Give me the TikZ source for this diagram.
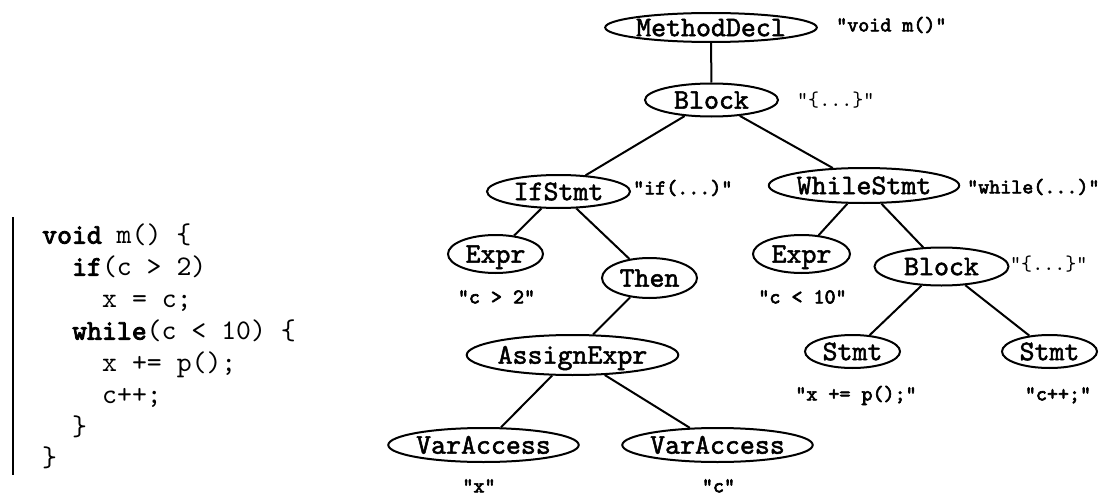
\documentclass[tikz,border=0pt]{standalone}
\usepackage{fontspec}
\usetikzlibrary{shapes.geometric}
% typewriter faces: an emboldened one for tree labels,
% a plain one for source text and a heavy one for keywords and fragments
\newfontfamily\treefont[FakeBold=1.8]{lmmono10-regular.otf}
\newfontfamily\codefont{lmmono10-regular.otf}
\newfontfamily\codeboldfont[FakeBold=3]{lmmono10-regular.otf}
\newcommand\kw[1]{{\codeboldfont #1}}
\begin{document}
\begin{tikzpicture}[x=1pt,y=-1pt,
  astnode/.style={ellipse, draw, line width=2pt, inner sep=0pt,
    text height=17.4pt, text depth=0pt,
    font=\treefont\fontsize{28.5}{28.5}\selectfont},
  srctext/.style={inner sep=0pt, text height=12.8pt, text depth=0pt,
    font=\codeboldfont\fontsize{21}{21}\selectfont},
  srclight/.style={inner sep=0pt, text height=12.8pt, text depth=0pt,
    font=\codefont\fontsize{21}{21}\selectfont},
  codeline/.style={inner sep=0pt, anchor=west, text height=17.3pt, text depth=0pt,
    font=\codefont\fontsize{28.4}{28.4}\selectfont},
  treeedge/.style={line width=2pt}]
\useasboundingbox (0,0) rectangle (1106,495);

% source listing
\draw[line width=2.6pt] (13,217) -- (13,475);
\node[codeline] (l1) at (42,235) {\kw{void} m() \{};
\node[codeline] (l2) at (72,267) {\kw{if}(c > 2)};
\node[codeline] (l3) at (102,299) {x = c;};
\node[codeline] (l4) at (72,331) {\kw{while}(c < 10) \{};
\node[codeline] (l5) at (102,363) {x += p();};
\node[codeline] (l6) at (102,395) {c++;};
\node[codeline] (l7) at (72,427) {\}};
\node[codeline] (l8) at (42,458) {\}};

% syntax tree nodes
\node[astnode, minimum width=208pt, minimum height=29pt] (md) at (711,27.5) {MethodDecl};
\node[astnode, minimum width=133pt, minimum height=33pt] (blk) at (711.5,100) {Block};
\node[astnode, minimum width=143pt, minimum height=33pt] (ifs) at (558.5,191.5) {IfStmt};
\node[astnode, minimum width=182pt, minimum height=35pt] (whs) at (864,185.5) {WhileStmt};
\node[astnode, minimum width=95pt, minimum height=38pt] (exl) at (495.5,254) {Expr};
\node[astnode, minimum width=95pt, minimum height=40pt] (then) at (649.5,278) {Then};
\node[astnode, minimum width=97pt, minimum height=38pt] (exr) at (801.5,254) {Expr};
\node[astnode, minimum width=134pt, minimum height=38pt] (blkr) at (941.5,266.5) {Block};
\node[astnode, minimum width=209pt, minimum height=40pt] (asg) at (572.5,355) {AssignExpr};
\node[astnode, minimum width=183pt, minimum height=34pt] (val) at (483.5,445) {VarAccess};
\node[astnode, minimum width=185pt, minimum height=34pt] (var) at (717.5,445) {VarAccess};
\node[astnode, minimum width=95pt, minimum height=33pt] (stl) at (852.5,351.5) {Stmt};
\node[astnode, minimum width=95pt, minimum height=33pt] (str) at (1049.5,351.5) {Stmt};

% source fragments attached to the nodes
\node[srctext, anchor=west] (tmd) at (836,25) {"void m()"};
\node[srclight, anchor=west] (tblk) at (797,100) {"\{...\}"};
\node[srctext, anchor=west] (tifs) at (633,188) {"if(...)"};
\node[srctext, anchor=west] (twhs) at (967,187) {"while(...)"};
\node[srctext] (texl) at (496.5,297) {"c > 2"};
\node[srctext] (texr) at (802.5,297) {"c < 10"};
\node[srclight, anchor=west] (tblkr) at (1010,264) {"\{...\}"};
\node[srctext] (tstl) at (856,394) {"x += p();"};
\node[srctext] (tstr) at (1058,394) {"c++;"};
\node[srctext] (tval) at (479,486) {"x"};
\node[srctext] (tvar) at (718.5,486) {"c"};

% tree edges
\draw[treeedge] (md) -- (blk);
\draw[treeedge] (blk) -- (ifs);
\draw[treeedge] (blk) -- (whs);
\draw[treeedge] (ifs) -- (exl);
\draw[treeedge] (ifs) -- (then);
\draw[treeedge] (then) -- (asg);
\draw[treeedge] (asg) -- (val);
\draw[treeedge] (asg) -- (var);
\draw[treeedge] (whs) -- (exr);
\draw[treeedge] (whs) -- (blkr);
\draw[treeedge] (blkr) -- (stl);
\draw[treeedge] (blkr) -- (str);
\end{tikzpicture}
\end{document}
